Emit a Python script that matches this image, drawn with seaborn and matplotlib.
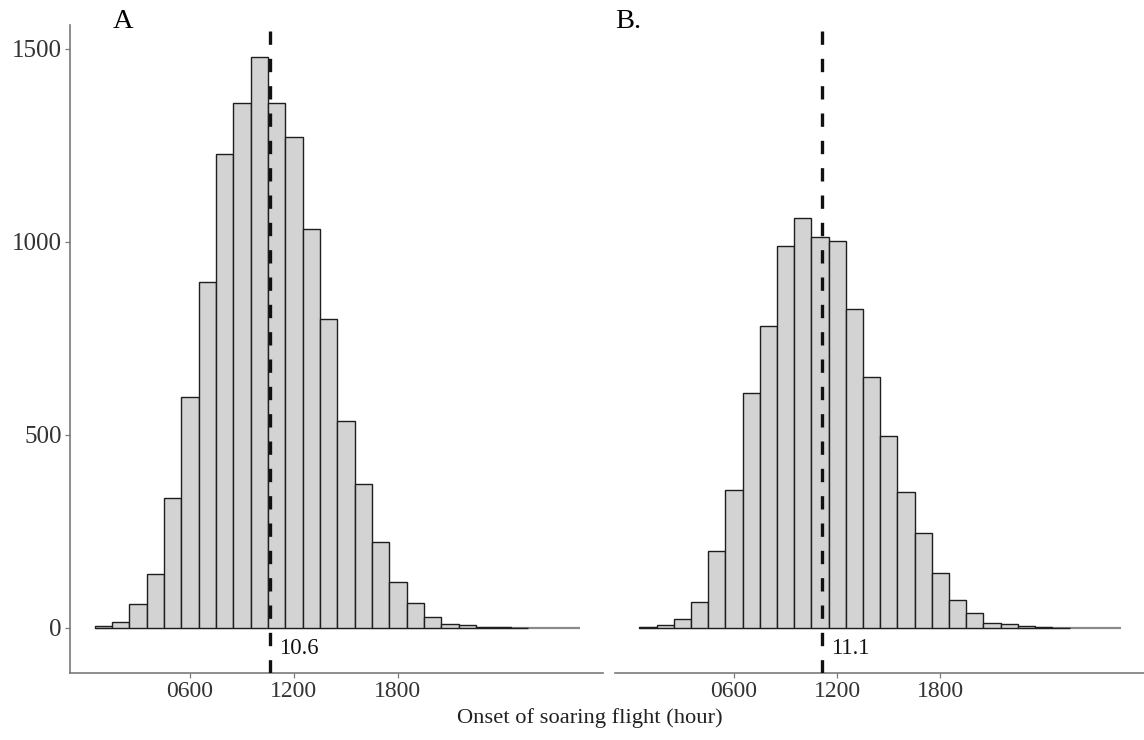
import numpy as np
import pandas as pd
import seaborn as sns
import matplotlib
matplotlib.use("Agg")
import matplotlib.pyplot as plt

# ---- data ----
hours = list(range(1, 29))
counts_a = [5, 15, 62, 140, 337, 599, 897, 1228, 1361, 1479, 1361, 1272, 1033, 801,
            536, 373, 222, 118, 64, 29, 10, 7, 3, 2, 1, 0, 0, 0]
counts_b = [2, 7, 24, 68, 200, 357, 608, 781, 990, 1061, 1014, 1003, 826, 651,
            497, 353, 245, 143, 73, 40, 12, 10, 4, 2, 1, 0, 0, 0]
means = [10.6, 11.1]
panel_labels = ["A", "B."]
xtick_vals = [6, 12, 18]
xtick_labels = ["0600", "1200", "1800"]
ytick_vals = [0, 500, 1000, 1500]
ytick_labels = ["0", "500", "1000", "1500"]
xlabel = "Onset of soaring flight (hour)"

sns.set_theme(style="ticks")
plt.rcParams["font.family"] = ["Liberation Serif", "DejaVu Serif"]

W, H = 1144, 740
fig = plt.figure(figsize=(W / 100, H / 100), dpi=100)
axA = fig.add_axes([70 / W, 67 / H, 533 / W, 648 / H])
axB = fig.add_axes([615 / W, 67 / H, 529 / W, 648 / H])

lo, hi = hours[0] - 0.5, hours[-1] + 0.5
axis_col = "#7a7a7a"

for i, (ax, counts) in enumerate(zip([axA, axB], [counts_a, counts_b])):
    df = pd.DataFrame({"hour": hours, "n": counts})
    sns.histplot(data=df, x="hour", weights="n", discrete=True, ax=ax,
                 color="#d3d3d3", edgecolor="#1e1e1e", linewidth=1.0, alpha=1)
    for p in ax.patches:
        if p.get_height() == 0:
            p.set_visible(False)
    ax.hlines(0, lo, hi, color="#8a8a8a", lw=1.6, zorder=0.5)
    ax.axvline(means[i], color="#111111", lw=2.4, dashes=(4.0, 4.2), zorder=5)
    ax.text(means[i] + 0.55, -52, f"{means[i]}", ha="left", va="center",
            fontsize=16.3, color="#111111")
    ax.set_xlim(-0.92, 29.83)
    ax.set_ylim(-116.6, 1562)
    ax.set_xticks(xtick_vals, xtick_labels)
    ax.set_xlabel("")
    ax.set_ylabel("")
    ax.spines[["top", "right"]].set_visible(False)
    ax.spines["bottom"].set_color(axis_col)
    ax.spines["bottom"].set_linewidth(1.2)
    ax.tick_params(axis="both", length=3.5, width=0.9, color=axis_col,
                   labelcolor="#333333", pad=2.5)
    ax.tick_params(axis="x", labelsize=17)
    ax.tick_params(axis="y", labelsize=18)
    fig.text((113 if i == 0 else 615) / W, 1 - 22 / H, panel_labels[i],
             ha="left", va="center", fontsize=20.5, color="#000000")

axA.set_yticks(ytick_vals, ytick_labels)
axA.spines["left"].set_color(axis_col)
axA.spines["left"].set_linewidth(1.2)
axB.spines["left"].set_visible(False)
axB.tick_params(axis="y", left=False, labelleft=False)

fig.text(590 / W, 1 - 718 / H, xlabel, ha="center", va="center",
         fontsize=16.2, color="#222222")

fig.savefig("out.png", dpi=100)
